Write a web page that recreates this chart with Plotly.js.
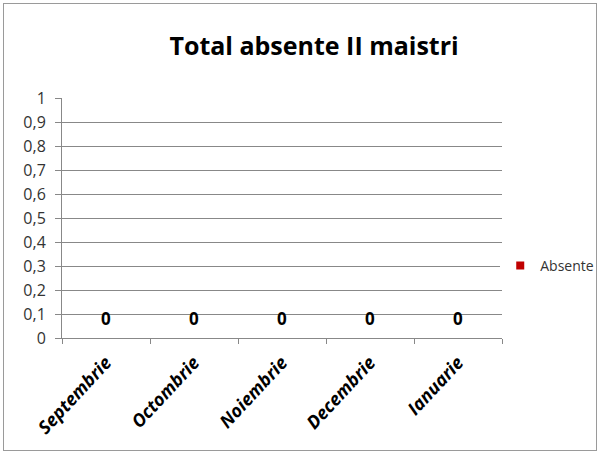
<!DOCTYPE html>
<html>
<head>
<meta charset="utf-8">
<script src="https://cdn.plot.ly/plotly-3.0.1.min.js"></script>
<style>
html,body{margin:0;padding:0;background:#fff;}
#wrap{position:relative;width:604px;height:457px;}
#chart{width:604px;height:457px;}
#frame{position:absolute;left:3px;top:3px;width:592px;height:446px;border:1px solid #9a9a9a;pointer-events:none;}
</style>
</head>
<body>
<div id="wrap"><div id="chart"></div><div id="frame"></div></div>
<script>
const categories = ["Septembrie", "Octombrie", "Noiembrie", "Decembrie", "Ianuarie"];
const absente = [0, 0, 0, 0, 0];
const seriesName = "Absente";
const chartTitle = "Total absente II maistri";

const barTrace = {
  type: "bar",
  x: categories,
  y: absente,
  name: seriesName,
  marker: {color: "#c00000"},
  showlegend: false,
  hoverinfo: "x+y"
};
// legend entry with a small square marker like the original
const legendTrace = {
  type: "scatter", mode: "markers",
  x: [categories[0]], y: [null],
  name: seriesName,
  marker: {color: "#c00000", symbol: "square", size: 8},
  showlegend: true, hoverinfo: "skip"
};

const annotations = categories.map((c, i) => ({
  x: c, y: absente[i], xref: "x", yref: "y",
  text: String(absente[i]), showarrow: false, yshift: 20,
  font: {family: "Open Sans, sans-serif", size: 17, color: "#000", weight: "bold"}
}));

const layout = {
  width: 604, height: 457,
  margin: {l: 62, r: 102, t: 98, b: 119, autoexpand: false},
  paper_bgcolor: "#fff", plot_bgcolor: "#fff",
  separators: ",.",
  title: {text: chartTitle, x: 0.52, xanchor: "center", y: 0.898, yanchor: "middle",
    font: {family: "Open Sans, sans-serif", size: 25, color: "#000", weight: "bold"}},
  xaxis: {
    type: "category",
    showline: true, linecolor: "#888", linewidth: 1,
    ticks: "outside", tickson: "boundaries", ticklen: 5, tickcolor: "#888",
    tickangle: -47, ticklabelstandoff: 6,
    tickfont: {family: "Open Sans, sans-serif", size: 18, color: "#000", weight: "bold", style: "italic"},
    showgrid: false
  },
  yaxis: {
    range: [0, 1], dtick: 0.1, tick0: 0,
    showline: true, linecolor: "#888", linewidth: 1,
    ticks: "outside", ticklen: 6, tickcolor: "#888",
    ticklabelstandoff: 6,
    gridcolor: "#888", gridwidth: 1,
    zeroline: false,
    tickfont: {family: "Open Sans, sans-serif", size: 16, color: "#333"}
  },
  legend: {x: 0.996, xanchor: "left", y: 0.3, yanchor: "middle",
    font: {family: "Open Sans, sans-serif", size: 14, color: "#333"}},
  annotations: annotations,
  bargap: 0.4
};

Plotly.newPlot("chart", [barTrace, legendTrace], layout, {displayModeBar: false, staticPlot: true});
</script>
</body>
</html>
